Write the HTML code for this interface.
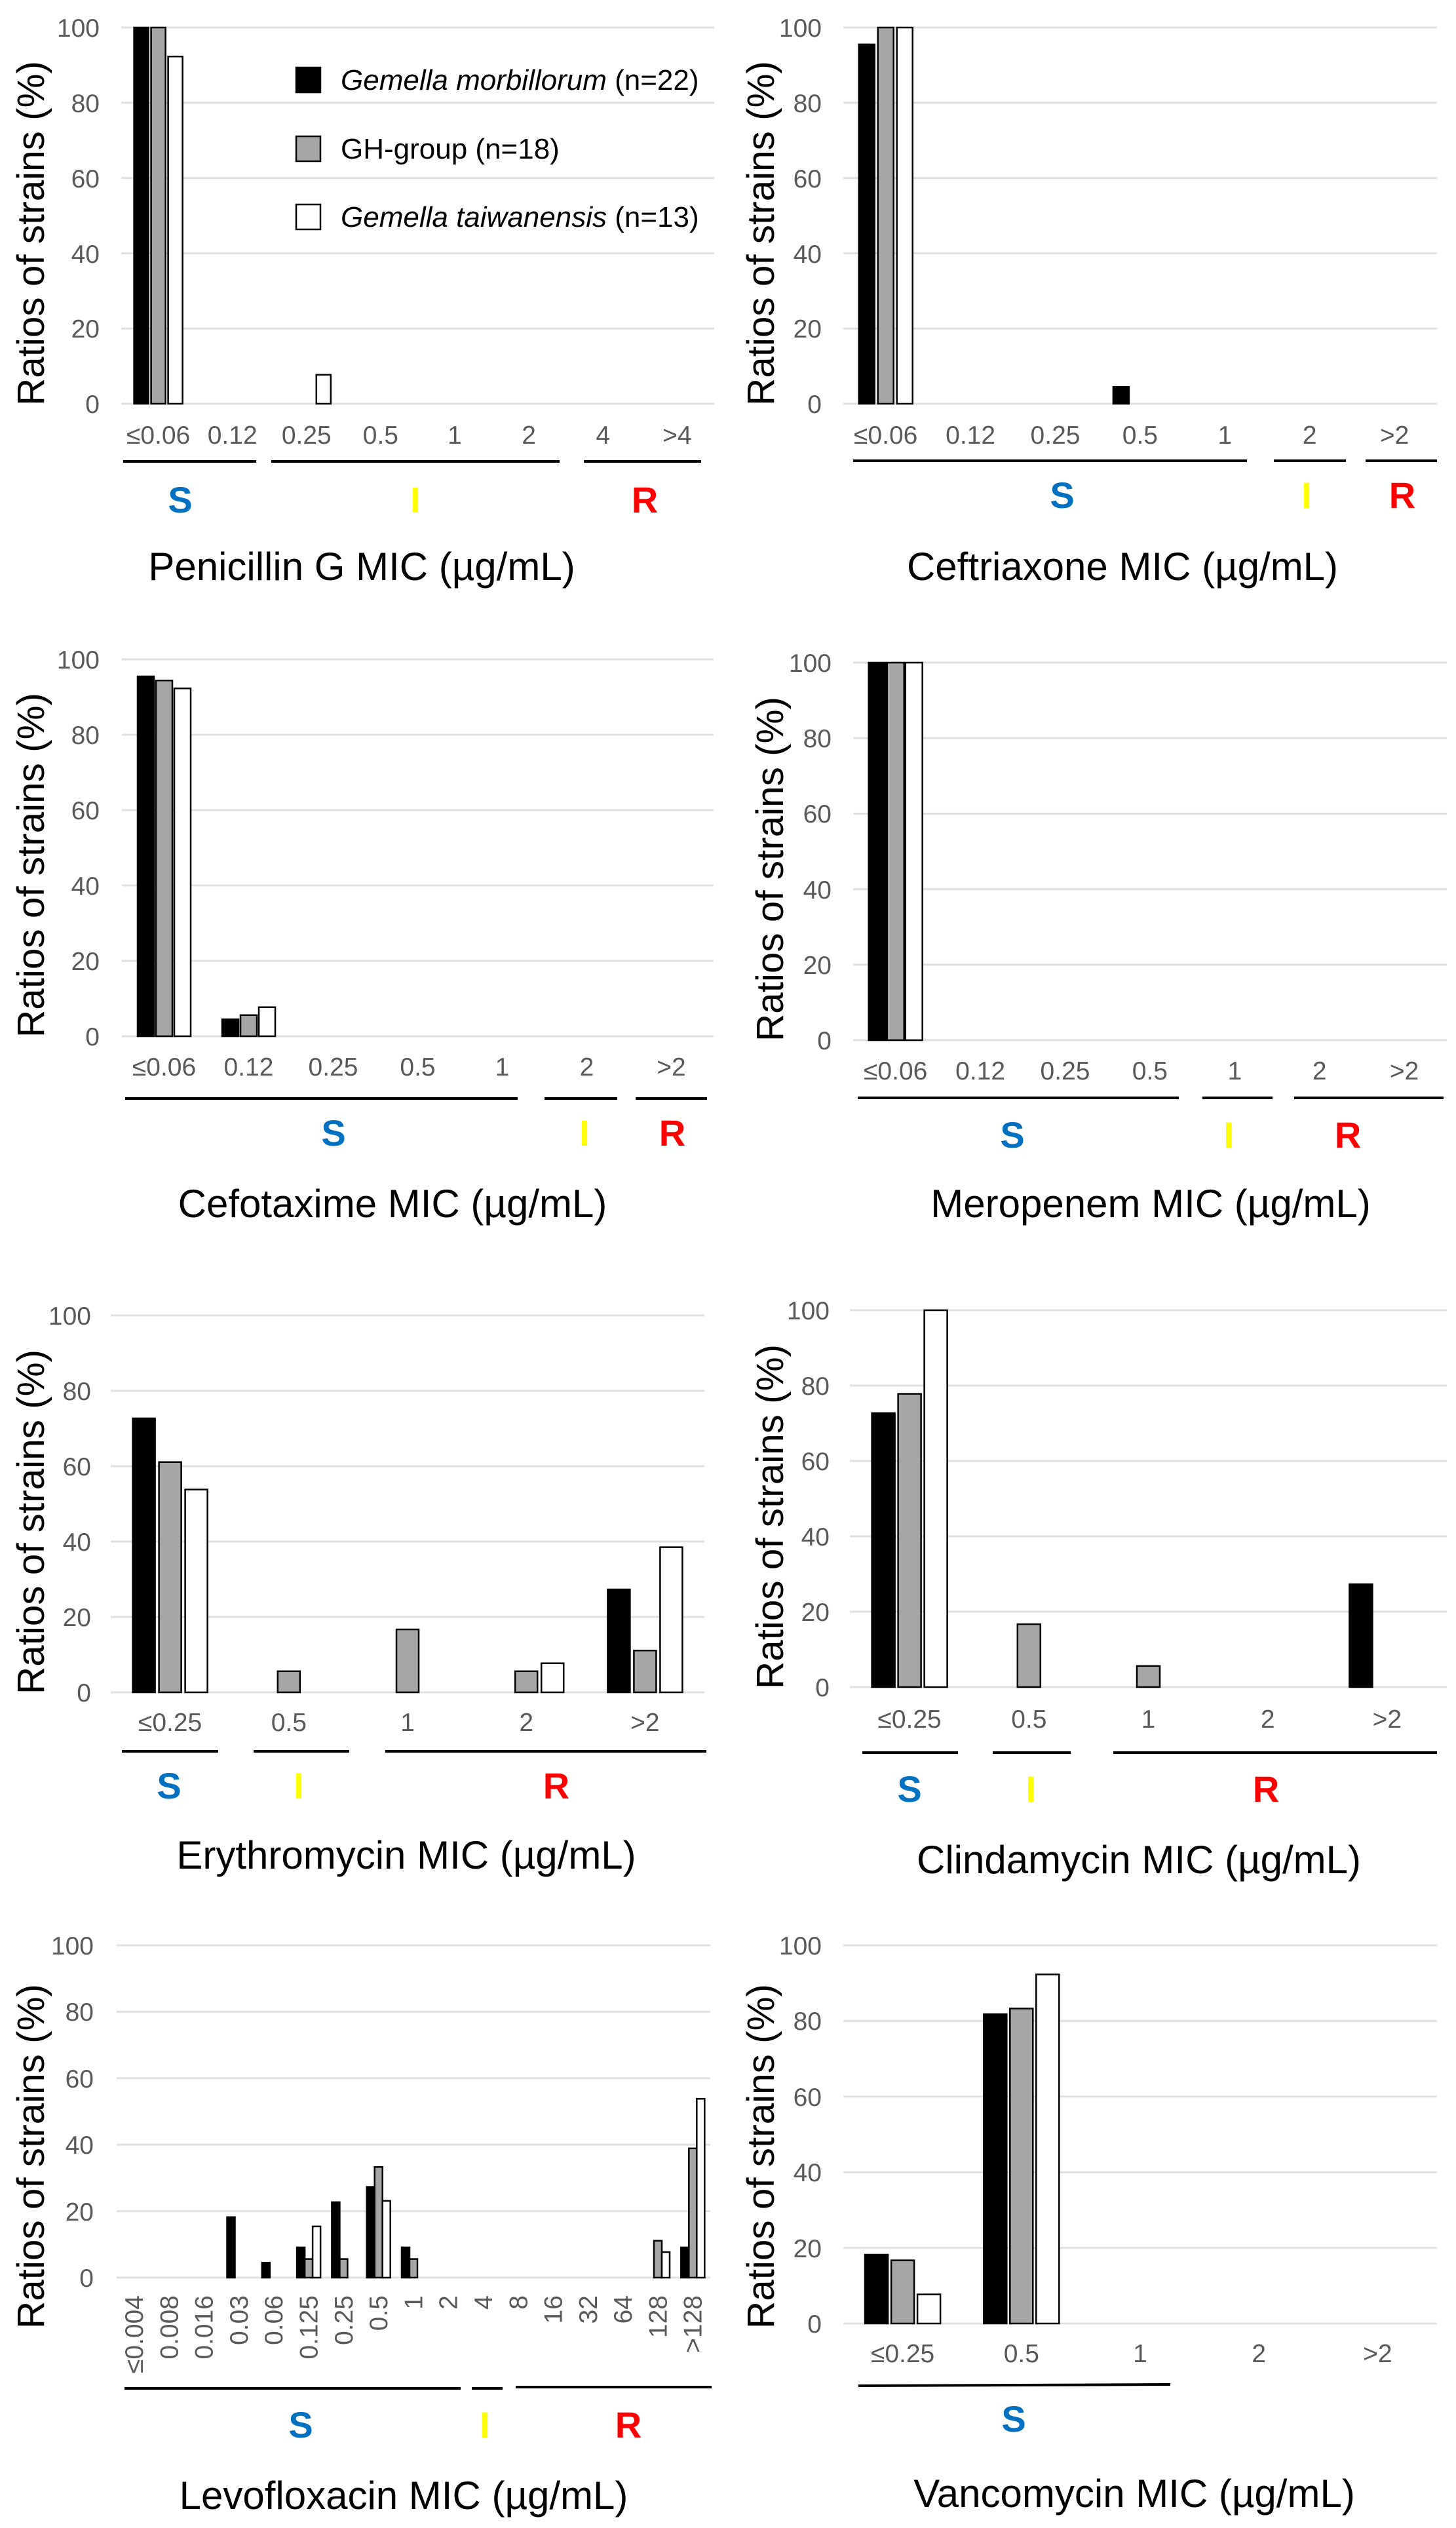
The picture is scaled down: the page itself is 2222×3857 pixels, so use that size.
<!DOCTYPE html>
<html><head><meta charset="utf-8"><style>
html,body{margin:0;padding:0;background:#fff}
svg{display:block}
text{font-family:"Liberation Sans",Arial,sans-serif}
.tl{font-size:39px;fill:#595959;text-anchor:end}
.tm{font-size:39px;fill:#595959;text-anchor:middle}
.yl{font-size:58px;fill:#000;text-anchor:middle}
.ti{font-size:60px;fill:#000;text-anchor:middle}
.lg{font-size:44px;fill:#000}
.S{font-size:56px;font-weight:bold;fill:#0070c0;text-anchor:middle}
.I{font-size:56px;font-weight:bold;fill:#ffff00;text-anchor:middle}
.R{font-size:56px;font-weight:bold;fill:#ff0000;text-anchor:middle}
.g{stroke:#e0e0e0;stroke-width:3}
.br{stroke:#000;stroke-width:4}
.k{fill:#000;stroke:#000;stroke-width:2.5}
.y{fill:#a6a6a6;stroke:#000;stroke-width:2.5}
.w{fill:#fff;stroke:#000;stroke-width:2.5}
</style></head><body>
<svg width="2222" height="3857" viewBox="0 0 2222 3857" xmlns="http://www.w3.org/2000/svg">

<!-- Panel 1 Penicillin -->
<g>
<line class="g" x1="185" x2="1090" y1="42" y2="42"/><line class="g" x1="185" x2="1090" y1="156.8" y2="156.8"/><line class="g" x1="185" x2="1090" y1="271.6" y2="271.6"/><line class="g" x1="185" x2="1090" y1="386.4" y2="386.4"/><line class="g" x1="185" x2="1090" y1="501.2" y2="501.2"/><line class="g" x1="185" x2="1090" y1="616" y2="616"/>
<text class="tl" x="152" y="56">100</text><text class="tl" x="152" y="171">80</text><text class="tl" x="152" y="286">60</text><text class="tl" x="152" y="401">40</text><text class="tl" x="152" y="515">20</text><text class="tl" x="152" y="630">0</text>
<text class="yl" transform="translate(67,356) rotate(-90)" textLength="526" lengthAdjust="spacingAndGlyphs">Ratios of strains (%)</text>
<rect class="k" x="204.6" y="42" width="22" height="574"/><rect class="y" x="230.6" y="42" width="22" height="574"/><rect class="w" x="256.6" y="86.2" width="22" height="529.8"/>
<rect class="w" x="482.8" y="571.8" width="22" height="44.2"/>
<text class="tm" x="241.6" y="677">≤0.06</text><text class="tm" x="354.7" y="677">0.12</text><text class="tm" x="467.8" y="677">0.25</text><text class="tm" x="580.9" y="677">0.5</text><text class="tm" x="694" y="677">1</text><text class="tm" x="807.1" y="677">2</text><text class="tm" x="920.2" y="677">4</text><text class="tm" x="1033.3" y="677">&gt;4</text>
<line class="br" x1="188" x2="391" y1="704" y2="704"/><line class="br" x1="414" x2="854" y1="704" y2="704"/><line class="br" x1="891" x2="1070" y1="704" y2="704"/>
<text class="S" x="275" y="782">S</text><text class="I" x="634" y="782">I</text><text class="R" x="984" y="782">R</text>
<text class="ti" x="552" y="885">Penicillin G MIC (µg/mL)</text>
<rect x="452" y="103" width="37" height="38" fill="#000" stroke="#000" stroke-width="2.5"/>
<rect x="452" y="208" width="37" height="38" fill="#a6a6a6" stroke="#000" stroke-width="2.5"/>
<rect x="452" y="312" width="37" height="38" fill="#fff" stroke="#000" stroke-width="2.5"/>
<text class="lg" x="520" y="137"><tspan font-style="italic">Gemella morbillorum</tspan> (n=22)</text>
<text class="lg" x="520" y="242">GH-group (n=18)</text>
<text class="lg" x="520" y="346"><tspan font-style="italic">Gemella taiwanensis</tspan> (n=13)</text>
</g>

<!-- Panel 2 Ceftriaxone -->
<g>
<line class="g" x1="1287" x2="2193" y1="42" y2="42"/><line class="g" x1="1287" x2="2193" y1="156.8" y2="156.8"/><line class="g" x1="1287" x2="2193" y1="271.6" y2="271.6"/><line class="g" x1="1287" x2="2193" y1="386.4" y2="386.4"/><line class="g" x1="1287" x2="2193" y1="501.2" y2="501.2"/><line class="g" x1="1287" x2="2193" y1="616" y2="616"/>
<text class="tl" x="1254" y="56">100</text><text class="tl" x="1254" y="171">80</text><text class="tl" x="1254" y="286">60</text><text class="tl" x="1254" y="401">40</text><text class="tl" x="1254" y="515">20</text><text class="tl" x="1254" y="630">0</text>
<text class="yl" transform="translate(1181,356) rotate(-90)" textLength="526" lengthAdjust="spacingAndGlyphs">Ratios of strains (%)</text>
<rect class="k" x="1310.7" y="67.8" width="24" height="548.2"/><rect class="y" x="1339.7" y="42" width="24" height="574"/><rect class="w" x="1368.7" y="42" width="24" height="574"/>
<rect class="k" x="1698.9" y="590.2" width="24" height="25.8"/>
<text class="tm" x="1351.7" y="677">≤0.06</text><text class="tm" x="1481.1" y="677">0.12</text><text class="tm" x="1610.5" y="677">0.25</text><text class="tm" x="1739.9" y="677">0.5</text><text class="tm" x="1869.3" y="677">1</text><text class="tm" x="1998.7" y="677">2</text><text class="tm" x="2128.1" y="677">&gt;2</text>
<line class="br" x1="1302" x2="1903" y1="703" y2="703"/><line class="br" x1="1944" x2="2054" y1="703" y2="703"/><line class="br" x1="2084" x2="2193" y1="703" y2="703"/>
<text class="S" x="1621" y="775">S</text><text class="I" x="1994" y="775">I</text><text class="R" x="2140" y="775">R</text>
<text class="ti" x="1713" y="885">Ceftriaxone MIC (µg/mL)</text>
</g>

<!-- Panel 3 Cefotaxime -->
<g>
<line class="g" x1="186" x2="1089" y1="1006" y2="1006"/><line class="g" x1="186" x2="1089" y1="1121" y2="1121"/><line class="g" x1="186" x2="1089" y1="1236" y2="1236"/><line class="g" x1="186" x2="1089" y1="1351" y2="1351"/><line class="g" x1="186" x2="1089" y1="1466" y2="1466"/><line class="g" x1="186" x2="1089" y1="1581" y2="1581"/>
<text class="tl" x="152" y="1020">100</text><text class="tl" x="152" y="1135">80</text><text class="tl" x="152" y="1250">60</text><text class="tl" x="152" y="1365">40</text><text class="tl" x="152" y="1480">20</text><text class="tl" x="152" y="1595">0</text>
<text class="yl" transform="translate(67,1320) rotate(-90)" textLength="526" lengthAdjust="spacingAndGlyphs">Ratios of strains (%)</text>
<rect class="k" x="210" y="1032" width="25" height="549"/><rect class="y" x="238" y="1038.2" width="25" height="542.8"/><rect class="w" x="266" y="1050.3" width="25" height="530.7"/>
<rect class="k" x="339" y="1555.1" width="25" height="25.9"/><rect class="y" x="367" y="1548.8" width="25" height="32.2"/><rect class="w" x="395" y="1536.7" width="25" height="44.3"/>
<text class="tm" x="250.5" y="1641">≤0.06</text><text class="tm" x="379.5" y="1641">0.12</text><text class="tm" x="508.5" y="1641">0.25</text><text class="tm" x="637.5" y="1641">0.5</text><text class="tm" x="766.5" y="1641">1</text><text class="tm" x="895.5" y="1641">2</text><text class="tm" x="1024.5" y="1641">&gt;2</text>
<line class="br" x1="191" x2="790" y1="1676" y2="1676"/><line class="br" x1="831" x2="942" y1="1676" y2="1676"/><line class="br" x1="970" x2="1079" y1="1676" y2="1676"/>
<text class="S" x="509" y="1748">S</text><text class="I" x="892" y="1748">I</text><text class="R" x="1026" y="1748">R</text>
<text class="ti" x="599" y="1857">Cefotaxime MIC (µg/mL)</text>
</g>

<!-- Panel 4 Meropenem -->
<g>
<line class="g" x1="1302" x2="2208" y1="1011" y2="1011"/><line class="g" x1="1302" x2="2208" y1="1126.2" y2="1126.2"/><line class="g" x1="1302" x2="2208" y1="1241.4" y2="1241.4"/><line class="g" x1="1302" x2="2208" y1="1356.6" y2="1356.6"/><line class="g" x1="1302" x2="2208" y1="1471.8" y2="1471.8"/><line class="g" x1="1302" x2="2208" y1="1587" y2="1587"/>
<text class="tl" x="1269" y="1025">100</text><text class="tl" x="1269" y="1140">80</text><text class="tl" x="1269" y="1255">60</text><text class="tl" x="1269" y="1371">40</text><text class="tl" x="1269" y="1486">20</text><text class="tl" x="1269" y="1601">0</text>
<text class="yl" transform="translate(1195,1326) rotate(-90)" textLength="526" lengthAdjust="spacingAndGlyphs">Ratios of strains (%)</text>
<rect class="k" x="1325.7" y="1011" width="26" height="576"/><rect class="y" x="1353.7" y="1011" width="26" height="576"/><rect class="w" x="1381.7" y="1011" width="26" height="576"/>
<text class="tm" x="1366.7" y="1647">≤0.06</text><text class="tm" x="1496.1" y="1647">0.12</text><text class="tm" x="1625.5" y="1647">0.25</text><text class="tm" x="1754.9" y="1647">0.5</text><text class="tm" x="1884.3" y="1647">1</text><text class="tm" x="2013.7" y="1647">2</text><text class="tm" x="2143.1" y="1647">&gt;2</text>
<line class="br" x1="1309" x2="1799" y1="1675" y2="1675"/><line class="br" x1="1835" x2="1942" y1="1675" y2="1675"/><line class="br" x1="1975" x2="2203" y1="1675" y2="1675"/>
<text class="S" x="1545" y="1751">S</text><text class="I" x="1875" y="1751">I</text><text class="R" x="2057" y="1751">R</text>
<text class="ti" x="1756" y="1857">Meropenem MIC (µg/mL)</text>
</g>

<!-- Panel 5 Erythromycin -->
<g>
<line class="g" x1="169" x2="1075" y1="2007" y2="2007"/><line class="g" x1="169" x2="1075" y1="2122" y2="2122"/><line class="g" x1="169" x2="1075" y1="2237" y2="2237"/><line class="g" x1="169" x2="1075" y1="2352" y2="2352"/><line class="g" x1="169" x2="1075" y1="2467" y2="2467"/><line class="g" x1="169" x2="1075" y1="2582" y2="2582"/>
<text class="tl" x="139" y="2021">100</text><text class="tl" x="139" y="2136">80</text><text class="tl" x="139" y="2251">60</text><text class="tl" x="139" y="2366">40</text><text class="tl" x="139" y="2481">20</text><text class="tl" x="139" y="2596">0</text>
<text class="yl" transform="translate(67,2322) rotate(-90)" textLength="526" lengthAdjust="spacingAndGlyphs">Ratios of strains (%)</text>
<rect class="k" x="202.6" y="2164" width="34" height="418"/><rect class="y" x="242.6" y="2230.7" width="34" height="351.3"/><rect class="w" x="282.6" y="2272.6" width="34" height="309.4"/>
<rect class="y" x="423.8" y="2549.8" width="34" height="32.2"/>
<rect class="y" x="605" y="2486" width="34" height="96"/>
<rect class="y" x="786.2" y="2549.8" width="34" height="32.2"/><rect class="w" x="826.2" y="2537.7" width="34" height="44.3"/>
<rect class="k" x="927.4" y="2425" width="34" height="157"/><rect class="y" x="967.4" y="2518.2" width="34" height="63.8"/><rect class="w" x="1007.4" y="2360.6" width="34" height="221.4"/>
<text class="tm" x="259.6" y="2641">≤0.25</text><text class="tm" x="440.8" y="2641">0.5</text><text class="tm" x="622" y="2641">1</text><text class="tm" x="803.2" y="2641">2</text><text class="tm" x="984.4" y="2641">&gt;2</text>
<line class="br" x1="186" x2="333" y1="2672" y2="2672"/><line class="br" x1="387" x2="533" y1="2672" y2="2672"/><line class="br" x1="588" x2="1078" y1="2672" y2="2672"/>
<text class="S" x="258" y="2744">S</text><text class="I" x="456" y="2744">I</text><text class="R" x="849" y="2744">R</text>
<text class="ti" x="620" y="2851">Erythromycin MIC (µg/mL)</text>
</g>

<!-- Panel 6 Clindamycin -->
<g>
<line class="g" x1="1297" x2="2208" y1="1999" y2="1999"/><line class="g" x1="1297" x2="2208" y1="2114" y2="2114"/><line class="g" x1="1297" x2="2208" y1="2229" y2="2229"/><line class="g" x1="1297" x2="2208" y1="2344" y2="2344"/><line class="g" x1="1297" x2="2208" y1="2459" y2="2459"/><line class="g" x1="1297" x2="2208" y1="2574" y2="2574"/>
<text class="tl" x="1266" y="2013">100</text><text class="tl" x="1266" y="2128">80</text><text class="tl" x="1266" y="2243">60</text><text class="tl" x="1266" y="2358">40</text><text class="tl" x="1266" y="2473">20</text><text class="tl" x="1266" y="2588">0</text>
<text class="yl" transform="translate(1195,2314) rotate(-90)" textLength="526" lengthAdjust="spacingAndGlyphs">Ratios of strains (%)</text>
<rect class="k" x="1330.6" y="2156" width="35" height="418"/><rect class="y" x="1370.6" y="2126.6" width="35" height="447.4"/><rect class="w" x="1410.6" y="1999" width="35" height="575"/>
<rect class="y" x="1552.8" y="2478" width="35" height="96"/>
<rect class="y" x="1735" y="2541.8" width="35" height="32.2"/>
<rect class="k" x="2059.4" y="2417" width="35" height="157"/>
<text class="tm" x="1388.1" y="2636">≤0.25</text><text class="tm" x="1570.3" y="2636">0.5</text><text class="tm" x="1752.5" y="2636">1</text><text class="tm" x="1934.7" y="2636">2</text><text class="tm" x="2116.9" y="2636">&gt;2</text>
<line class="br" x1="1316" x2="1462" y1="2674" y2="2674"/><line class="br" x1="1515" x2="1634" y1="2674" y2="2674"/><line class="br" x1="1699" x2="2193" y1="2674" y2="2674"/>
<text class="S" x="1388" y="2749">S</text><text class="I" x="1573" y="2749">I</text><text class="R" x="1932" y="2749">R</text>
<text class="ti" x="1738" y="2858">Clindamycin MIC (µg/mL)</text>
</g>

<!-- Panel 7 Levofloxacin -->
<g>
<line class="g" x1="178" x2="1084" y1="2968" y2="2968"/><line class="g" x1="178" x2="1084" y1="3069.4" y2="3069.4"/><line class="g" x1="178" x2="1084" y1="3170.8" y2="3170.8"/><line class="g" x1="178" x2="1084" y1="3272.2" y2="3272.2"/><line class="g" x1="178" x2="1084" y1="3373.6" y2="3373.6"/><line class="g" x1="178" x2="1084" y1="3475" y2="3475"/>
<text class="tl" x="143" y="2982">100</text><text class="tl" x="143" y="3083">80</text><text class="tl" x="143" y="3185">60</text><text class="tl" x="143" y="3286">40</text><text class="tl" x="143" y="3388">20</text><text class="tl" x="143" y="3489">0</text>
<text class="yl" transform="translate(67,3290) rotate(-90)" textLength="526" lengthAdjust="spacingAndGlyphs">Ratios of strains (%)</text>
<rect class="k" x="346.5" y="3382.7" width="12" height="92.3"/>
<rect class="k" x="399.8" y="3452.2" width="12" height="22.8"/>
<rect class="k" x="453.1" y="3428.9" width="12" height="46.1"/><rect class="y" x="465.1" y="3446.6" width="12" height="28.4"/><rect class="w" x="477.1" y="3396.9" width="12" height="78.1"/>
<rect class="k" x="506.4" y="3359.9" width="12" height="115.1"/><rect class="y" x="518.4" y="3446.6" width="12" height="28.4"/>
<rect class="k" x="559.7" y="3336.6" width="12" height="138.4"/><rect class="y" x="571.7" y="3306.2" width="12" height="168.8"/><rect class="w" x="583.7" y="3357.9" width="12" height="117.1"/>
<rect class="k" x="613" y="3428.9" width="12" height="46.1"/><rect class="y" x="625" y="3446.6" width="12" height="28.4"/>
<rect class="y" x="998" y="3418.7" width="12" height="56.3"/><rect class="w" x="1010" y="3436" width="12" height="39"/>
<rect class="k" x="1039.3" y="3428.9" width="12" height="46.1"/><rect class="y" x="1051.3" y="3277.8" width="12" height="197.2"/><rect class="w" x="1063.3" y="3202.2" width="12" height="272.8"/>
<text class="tl" transform="translate(218,3502) rotate(-90)">≤0.004</text>
<text class="tl" transform="translate(271.3,3502) rotate(-90)">0.008</text>
<text class="tl" transform="translate(324.6,3502) rotate(-90)">0.016</text>
<text class="tl" transform="translate(377.9,3502) rotate(-90)">0.03</text>
<text class="tl" transform="translate(431.2,3502) rotate(-90)">0.06</text>
<text class="tl" transform="translate(484.5,3502) rotate(-90)">0.125</text>
<text class="tl" transform="translate(537.8,3502) rotate(-90)">0.25</text>
<text class="tl" transform="translate(591.1,3502) rotate(-90)">0.5</text>
<text class="tl" transform="translate(644.4,3502) rotate(-90)">1</text>
<text class="tl" transform="translate(697.7,3502) rotate(-90)">2</text>
<text class="tl" transform="translate(751,3502) rotate(-90)">4</text>
<text class="tl" transform="translate(804.3,3502) rotate(-90)">8</text>
<text class="tl" transform="translate(857.5,3502) rotate(-90)">16</text>
<text class="tl" transform="translate(910.8,3502) rotate(-90)">32</text>
<text class="tl" transform="translate(964.1,3502) rotate(-90)">64</text>
<text class="tl" transform="translate(1017.4,3502) rotate(-90)">128</text>
<text class="tl" transform="translate(1070.7,3502) rotate(-90)">&gt;128</text>
<line class="br" x1="190" x2="703" y1="3644" y2="3644"/><line class="br" x1="720" x2="767" y1="3644" y2="3644"/><line class="br" x1="787" x2="1086" y1="3642" y2="3642"/>
<text class="S" x="459" y="3719">S</text><text class="I" x="740" y="3719">I</text><text class="R" x="959" y="3719">R</text>
<text class="ti" x="616" y="3828">Levofloxacin MIC (µg/mL)</text>
</g>

<!-- Panel 8 Vancomycin -->
<g>
<line class="g" x1="1287" x2="2193" y1="2968" y2="2968"/><line class="g" x1="1287" x2="2193" y1="3083.4" y2="3083.4"/><line class="g" x1="1287" x2="2193" y1="3198.8" y2="3198.8"/><line class="g" x1="1287" x2="2193" y1="3314.2" y2="3314.2"/><line class="g" x1="1287" x2="2193" y1="3429.6" y2="3429.6"/><line class="g" x1="1287" x2="2193" y1="3545" y2="3545"/>
<text class="tl" x="1254" y="2982">100</text><text class="tl" x="1254" y="3097">80</text><text class="tl" x="1254" y="3213">60</text><text class="tl" x="1254" y="3328">40</text><text class="tl" x="1254" y="3444">20</text><text class="tl" x="1254" y="3559">0</text>
<text class="yl" transform="translate(1181,3290) rotate(-90)" textLength="526" lengthAdjust="spacingAndGlyphs">Ratios of strains (%)</text>
<rect class="k" x="1320.1" y="3440" width="35" height="105"/><rect class="y" x="1360.1" y="3448.6" width="35" height="96.4"/><rect class="w" x="1400.1" y="3500.6" width="35" height="44.4"/>
<rect class="k" x="1501.3" y="3073" width="35" height="472"/><rect class="y" x="1541.3" y="3064.4" width="35" height="480.6"/><rect class="w" x="1581.3" y="3012.4" width="35" height="532.6"/>
<text class="tm" x="1377.6" y="3604">≤0.25</text><text class="tm" x="1558.8" y="3604">0.5</text><text class="tm" x="1740" y="3604">1</text><text class="tm" x="1921.2" y="3604">2</text><text class="tm" x="2102.4" y="3604">&gt;2</text>
<line class="br" x1="1310" x2="1786" y1="3640" y2="3638"/>
<text class="S" x="1547" y="3710">S</text>
<text class="ti" x="1731" y="3825">Vancomycin MIC (µg/mL)</text>
</g>
</svg>
</body></html>
